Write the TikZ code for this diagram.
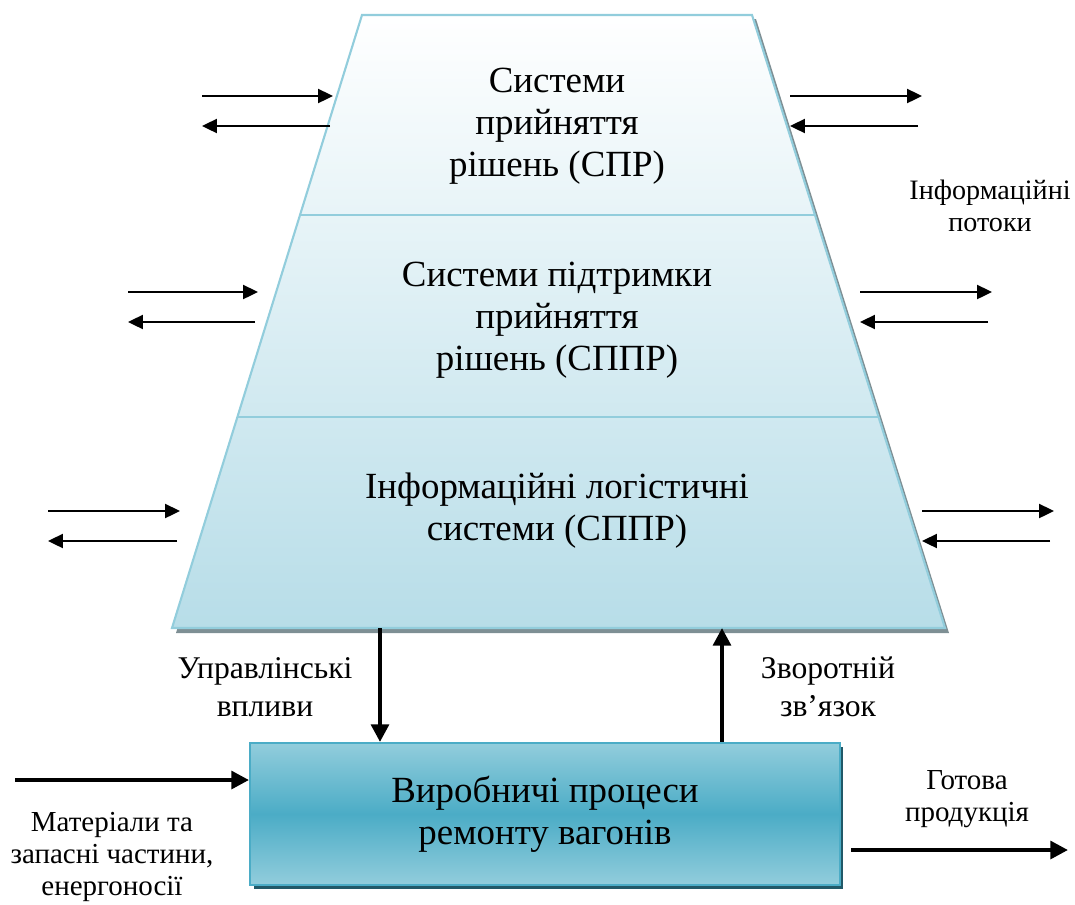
\documentclass[tikz,border=0pt]{standalone}
\usepackage{fontspec}
\setmainfont{Liberation Serif}
\usetikzlibrary{positioning,arrows.meta,shadows}

\definecolor{edgeblue}{HTML}{92CDDC}
\definecolor{paleblue}{HTML}{B7DDE8}
\definecolor{midblue}{HTML}{4BACC6}
\definecolor{boxshadow}{HTML}{215968}

\begin{document}
\begin{tikzpicture}[x=0.02cm,y=-0.02cm]
    \tikzstyle{lvltext} = [align=center, font=\fontsize{21}{24}\selectfont]
    \tikzstyle{lbl} = [align=center, font=\fontsize{16.5}{18}\selectfont]
    \tikzstyle{flow} = [line width=1.1pt, -{Triangle[length=8.5pt,width=8pt]}]
    \tikzstyle{bigflow} = [line width=2.3pt, -{Triangle[length=10pt,width=10pt]}]
    \tikzstyle{procbox} = [draw=midblue, line width=1.2pt, minimum width=11.8cm, minimum height=2.84cm,
      top color=edgeblue, bottom color=edgeblue, middle color=midblue, align=center,
      font=\fontsize{21}{24}\selectfont,
      drop shadow={shadow xshift=0.07cm, shadow yshift=-0.08cm, fill=boxshadow, opacity=1}]
    \useasboundingbox (0,0) rectangle (1075,904);
    % pyramid of systems
    \fill[gray!45!paleblue!80!black] (366,19) -- (756,19) -- (949,633) -- (176,633) -- cycle;
    \shade[top color=white, bottom color=paleblue, draw=edgeblue, line width=1.2pt]
      (362,15) -- (752,15) -- (945,628) -- (172,628) -- cycle;
    \draw[edgeblue, line width=1pt] (300,215) -- (815,215);
    \draw[edgeblue, line width=1pt] (237,417) -- (879,417);
    \node[lvltext] (spr) at (557,126) {Системи\\прийняття\\рішень (СПР)};
    \node[lvltext] (sppr) at (557,320) {Системи підтримки\\прийняття\\рішень (СППР)};
    \node[lvltext] (ils) at (557,511) {Інформаційні логістичні\\системи (СППР)};
    \node[lbl, font=\fontsize{16}{18}\selectfont] (info) at (990,206) {Інформаційні\\потоки};
    % information flows on both sides
    \foreach \n/\y/\xa/\xb/\xc/\xd in {1/96/202/333/790/922, 2/292/128/258/860/992, 3/511/48/180/922/1054} {
      \coordinate (la\n) at (\xa,\y);
      \coordinate (lb\n) at (\xb,\y);
      \coordinate (ra\n) at (\xc,\y);
      \coordinate (rb\n) at (\xd,\y);
      \draw[flow] (la\n) -- (lb\n);
      \draw[flow] ([yshift=-0.6cm,xshift=-0.06cm]lb\n) -- ([yshift=-0.6cm]la\n);
      \draw[flow] (ra\n) -- (rb\n);
      \draw[flow] ([yshift=-0.6cm,xshift=-0.08cm]rb\n) -- ([yshift=-0.6cm]ra\n);
    }
    % production
    \node[procbox] (proc) at (545,814) {Виробничі процеси\\ремонту вагонів};
    \coordinate (ctrl) at (380,628);
    \coordinate (fb) at (722,628);
    \coordinate (matin) at (15,780);
    \coordinate (prodout) at (1068,850);
    \draw[bigflow] (ctrl) -- (ctrl |- proc.north);
    \draw[bigflow] (fb |- proc.north) -- (fb);
    \draw[bigflow] (matin) -- (matin -| proc.west);
    \draw[bigflow] ([xshift=0.2cm]prodout -| proc.east) -- (prodout);
    \node[lbl, font=\fontsize{18}{21.6}\selectfont] (upr) at (265,687) {Управлінські\\впливи};
    \node[lbl, font=\fontsize{18}{21.6}\selectfont] (zv) at (828,687) {Зворотній\\зв’язок};
    \node[lbl] (mat) at (112,857) {Матеріали та\\запасні частини,\\енергоносії};
    \node[lbl] (gotova) at (967,799) {Готова\\продукція};
\end{tikzpicture}
\end{document}
